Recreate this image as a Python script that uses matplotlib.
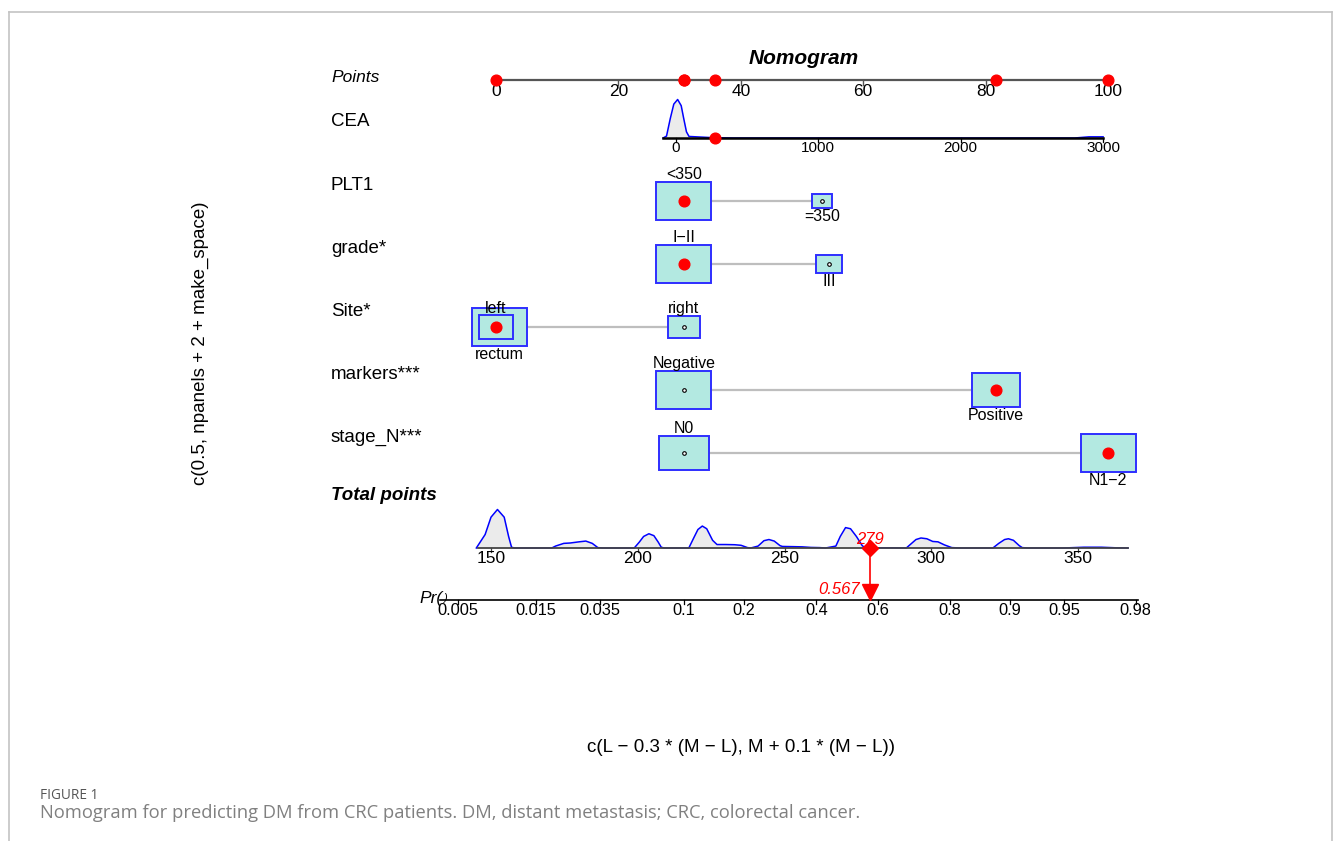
import numpy as np
import matplotlib
matplotlib.use("Agg")
import matplotlib.pyplot as plt
from matplotlib.patches import Rectangle
from matplotlib.lines import Line2D

plt.rcParams['font.family'] = ['Liberation Sans', 'DejaVu Sans']

# ----------------------------- data -----------------------------
points_ticks = [0, 20, 40, 60, 80, 100]
points_obs = [0, 30.7, 30.7, 35.8, 81.7, 100]

cea_ticks = [0, 1000, 2000, 3000]
cea_pts_range = [29.4, 99.2]          # points at CEA = 0 and CEA = 3000
cea_obs = 276
cea_dens_x = [-90, -66, -40, -15, 12, 37, 55, 74, 92, 170, 240, 400, 2800, 2900, 3000]
cea_dens_y = [0, 0.05, 0.5, 0.88, 1.0, 0.84, 0.5, 0.16, 0.04, 0.025, 0.012, 0, 0, 0.03, 0.03]

plt1_levels = ['<350', '=350']
plt1_points = [30.7, 53.3]
plt1_freq = [88, 12]
plt1_obs = '<350'

grade_levels = ['I\u2212II', 'III']
grade_points = [30.7, 54.4]
grade_freq = [81, 19]
grade_obs = 'I\u2212II'

site_levels = ['left', 'rectum', 'right']
site_points = [0, 0.6, 30.7]
site_freq = [22, 58, 20]
site_obs = 'left'

markers_levels = ['Negative', 'Positive']
markers_points = [30.7, 81.7]
markers_freq = [56, 44]
markers_obs = 'Positive'

stage_levels = ['N0', 'N1\u22122']
stage_points = [30.7, 100]
stage_freq = [45, 55]
stage_obs = 'N1\u22122'

var_names = ['CEA', 'PLT1', 'grade*', 'Site*', 'markers***', 'stage_N***']

tp_ticks = [150, 200, 250, 300, 350]
tp_dens_x = [145, 148, 150, 152.2, 154.5, 156, 157, 158, 170.7, 172, 174.8, 177, 180, 182.3,
             184.5, 186.4, 188, 198.8, 200.5, 202, 203.8, 205.5, 207, 208, 209, 217.4, 219,
             220.5, 222, 223.5, 225.5, 227, 230, 233, 235.2, 237.4, 238.5, 241, 243, 244.7,
             246.5, 248.5, 249.3, 253, 256, 259, 262, 264, 267.5, 269, 270.8, 272.5, 274.5,
             276.5, 277.4, 279, 285, 291.5, 293, 294.8, 296.5, 298.5, 300.5, 302.3, 304.5,
             307, 310, 321, 323, 325, 326.3, 328, 330, 331, 333, 345, 352, 358, 363, 367]
tp_dens_y = [0, 0.35, 0.8, 1.0, 0.8, 0.3, 0.02, 0, 0, 0.05, 0.12, 0.13, 0.16, 0.18,
             0.12, 0.01, 0, 0, 0.15, 0.3, 0.37, 0.32, 0.15, 0.02, 0, 0, 0.25,
             0.48, 0.57, 0.5, 0.2, 0.09, 0.09, 0.085, 0.07, 0.01, 0, 0.05, 0.19, 0.22,
             0.18, 0.06, 0.04, 0.035, 0.03, 0.015, 0.01, 0, 0.05, 0.3, 0.53, 0.5, 0.3,
             0.06, 0.01, 0.005, 0.005, 0, 0.1, 0.22, 0.26, 0.24, 0.17, 0.16, 0.08,
             0.01, 0, 0, 0.12, 0.22, 0.24, 0.2, 0.06, 0.01, 0, 0, 0.02, 0.02, 0.005, 0]
tp_obs = 279
tp_axis_range = [145.6, 367]

pr_labels = ['0.005', '0.015', '0.035', '0.1', '0.2', '0.4', '0.6', '0.8', '0.9', '0.95', '0.98']
pr_tick_tp = [138.65, 165.3, 187.1, 215.6, 236.1, 260.9, 281.75, 306.3, 326.9, 345.3, 369.6]
pr_axis_range = [132.6, 370.4]
pr_obs = 0.567

# ----------------------------- layout -----------------------------
PX_W, PX_H = 1333, 841
AX_L, AX_T, AX_R, AX_B = 300, 30, 1150, 640
PPX = 6.12          # px per point
TPX = 2.935         # px per total point
ROW_PX = 63.0


def pts_x(px):
    return (px - 496) / PPX


def tp_x(px):
    return 150 + (px - 491) / TPX


def row(px):
    return (px - 75) / ROW_PX


def dy(px):
    return px / ROW_PX


def dxp(px):
    return px / PPX


fig = plt.figure(figsize=(PX_W / 100, PX_H / 100), dpi=100)
rect = [AX_L / PX_W, 1 - AX_B / PX_H, (AX_R - AX_L) / PX_W, (AX_B - AX_T) / PX_H]
ax = fig.add_axes(rect)
ax.set_xlim(pts_x(AX_L), pts_x(AX_R))
ax.set_ylim(row(AX_B), row(AX_T))
ax.axis('off')
ax2 = fig.add_axes(rect)
ax2.set_xlim(tp_x(AX_L), tp_x(AX_R))
ax2.set_ylim(row(AX_B), row(AX_T))
ax2.axis('off')
ax2.patch.set_alpha(0)

RED = '#FF0000'
BLUE = '#0000FF'
BOX_FACE = '#B3E9E1'
BOX_EDGE = '#2E2EFF'
DENS_FILL = '#EBEBEB'
DENS_H = 38.5
LABEL_X = pts_x(331)

# frame
for xs, ys in [([9, 9], [12, PX_H]), ([9, 1332], [12, 12]), ([1332, 1332], [12, PX_H])]:
    fig.add_artist(Line2D([x / PX_W for x in xs], [1 - y / PX_H for y in ys],
                          color='#C4C4C4', lw=1.2, transform=fig.transFigure))

# title
ax.text(50.2, row(64), 'Nomogram', ha='center', va='baseline', fontsize=15,
        fontweight='bold', fontstyle='italic')

# Points axis
r_pts = row(80)
ax.text(LABEL_X, r_pts + dy(1.5), 'Points', ha='left', va='baseline', fontsize=12.5,
        fontstyle='italic')
ax.plot([points_ticks[0], points_ticks[-1]], [r_pts, r_pts], color='#555555', lw=1.6, zorder=2)
for t in points_ticks:
    ax.plot([t, t], [r_pts, r_pts + dy(5)], color='#555555', lw=1, zorder=2)
    ax.text(t, r_pts + dy(16), str(t), ha='center', va='baseline', fontsize=12.5)
ax.plot(points_obs, [r_pts] * len(points_obs), 'o', color=RED, ms=7.7, zorder=5)

# CEA
r_cea = row(138)
ax.text(LABEL_X, r_cea - dy(11.5), var_names[0], ha='left', va='baseline', fontsize=13.5)


def cea_to_pts(v):
    v = np.asarray(v, dtype=float)
    return cea_pts_range[0] + v * (cea_pts_range[1] - cea_pts_range[0]) / cea_ticks[-1]


cx = cea_to_pts(cea_dens_x)
cy = r_cea - np.asarray(cea_dens_y) * dy(DENS_H)
ax.fill_between(cx, r_cea, cy, color=DENS_FILL, lw=0, zorder=1)
ax.plot(cx, cy, color=BLUE, lw=1.1, zorder=2)
ax.plot([cea_to_pts(cea_dens_x[0]), cea_to_pts(cea_ticks[-1])], [r_cea, r_cea],
        color='black', lw=1.8, zorder=3)
for t in cea_ticks:
    ax.plot([cea_to_pts(t)] * 2, [r_cea, r_cea + dy(4)], color='black', lw=0.9, zorder=3)
    ax.text(cea_to_pts(t), r_cea + dy(13.5), str(t), ha='center', va='baseline', fontsize=11)
ax.plot([cea_to_pts(cea_obs)], [r_cea], 'o', color=RED, ms=7.7, zorder=5)

# categorical variables
cats = [
    (plt1_levels, plt1_points, plt1_freq, plt1_obs),
    (grade_levels, grade_points, grade_freq, grade_obs),
    (site_levels, site_points, site_freq, site_obs),
    (markers_levels, markers_points, markers_freq, markers_obs),
    (stage_levels, stage_points, stage_freq, stage_obs),
]
for k, (levels, pts, freq, obs) in enumerate(cats):
    r = float(k + 2)
    ax.text(LABEL_X, r - dy(11), var_names[k + 1], ha='left', va='baseline', fontsize=13.5)
    ax.plot([min(pts), max(pts)], [r, r], color='#BEBEBE', lw=1.6, zorder=1)
    fmax = max(freq)
    sizes = []
    for f in freq:
        w = 55 * np.sqrt(f / fmax)
        sizes.append((w, w / 1.43))
    order = sorted(range(len(levels)), key=lambda i: -freq[i])
    for i in order:
        w, h = sizes[i]
        ax.add_patch(Rectangle((pts[i] - dxp(w) / 2, r - dy(h) / 2), dxp(w), dy(h),
                               facecolor=BOX_FACE, edgecolor=BOX_EDGE, lw=1.4, zorder=3))
    for i, lev in enumerate(levels):
        w, h = sizes[i]
        if i % 2 == 0:
            ax.text(pts[i], r - dy(h) / 2 - dy(2.5), lev, ha='center', va='baseline',
                    fontsize=11.5)
        else:
            ax.text(pts[i], r + dy(h) / 2 + dy(12.5), lev, ha='center', va='baseline',
                    fontsize=11.5)
    obs_pt = pts[levels.index(obs)]
    for i, lev in enumerate(levels):
        if lev != obs and abs(pts[i] - obs_pt) > 2:
            ax.plot([pts[i]], [r], 'o', ms=2.6, mfc='white', mec='black', mew=0.8, zorder=4)
    ax.plot([obs_pt], [r], 'o', color=RED, ms=7.7, zorder=5)

# Total points
r_tp = row(548)
ax.text(LABEL_X, row(499.5), 'Total points', ha='left', va='baseline', fontsize=13.5,
        fontweight='bold', fontstyle='italic')
ty = r_tp - np.asarray(tp_dens_y) * dy(DENS_H)
ax2.fill_between(tp_dens_x, r_tp, ty, color=DENS_FILL, lw=0, zorder=1)
ax2.plot(tp_dens_x, ty, color=BLUE, lw=1.1, zorder=2)
ax2.plot(tp_axis_range, [r_tp, r_tp], color='#444444', lw=1.3, zorder=3)
for t in tp_ticks:
    ax2.plot([t, t], [r_tp, r_tp + dy(4)], color='#444444', lw=0.9, zorder=3)
    ax2.text(t, r_tp + dy(15), str(t), ha='center', va='baseline', fontsize=12.5)
ax2.plot([tp_obs], [r_tp], 'D', color=RED, ms=8.5, zorder=6)
ax2.text(tp_obs, r_tp - dy(4), str(tp_obs), ha='center', va='baseline', fontsize=12,
         fontstyle='italic', color=RED, zorder=7)

# Pr axis
r_pr = row(600)
ax2.plot([tp_obs, tp_obs], [r_tp, r_pr - dy(10)], color=RED, lw=1.2, zorder=4)
ax2.plot([tp_obs], [r_pr - dy(8)], 'v', color=RED, ms=11, zorder=6)
ax2.text(tp_obs, r_pr - dy(6), f'{pr_obs:.3f}', ha='right', va='baseline', fontsize=12,
         fontstyle='italic', color=RED, zorder=7,
         transform=ax2.transData + matplotlib.transforms.Affine2D().translate(-10, 0))
ax2.plot(pr_axis_range, [r_pr, r_pr], color='black', lw=1.2, zorder=3)
for lab, t in zip(pr_labels, pr_tick_tp):
    ax2.plot([t, t], [r_pr, r_pr + dy(4)], color='black', lw=0.9, zorder=3)
    ax2.text(t, r_pr + dy(15), lab, ha='center', va='baseline', fontsize=11.8)
ax2.text(tp_x(443), row(603), 'Pr(', ha='right', va='baseline', fontsize=12.5,
         fontstyle='italic')
ax2.text(tp_x(443.5), row(601), ')', ha='left', va='baseline', fontsize=8,
         fontstyle='italic')

# axis titles
fig.text(200 / PX_W, 1 - 343 / PX_H, 'c(0.5, npanels + 2 + make_space)', rotation=90,
         ha='center', va='center', fontsize=13.5)
fig.text(741 / PX_W, 1 - 748 / PX_H,
         'c(L \u2212 0.3 * (M \u2212 L), M + 0.1 * (M \u2212 L))',
         ha='center', va='center', fontsize=13.5)

# caption
fig.text(40 / PX_W, 1 - 799 / PX_H, 'FIGURE 1', ha='left', va='baseline', fontsize=9.8,
         color='#555555', family=['Open Sans', 'DejaVu Sans'])
fig.text(40 / PX_W, 1 - 818 / PX_H,
         'Nomogram for predicting DM from CRC patients. DM, distant metastasis; CRC, colorectal cancer.',
         ha='left', va='baseline', fontsize=13.2, color='#808080',
         family=['Open Sans', 'DejaVu Sans'])

fig.savefig('out.png', dpi=100)
